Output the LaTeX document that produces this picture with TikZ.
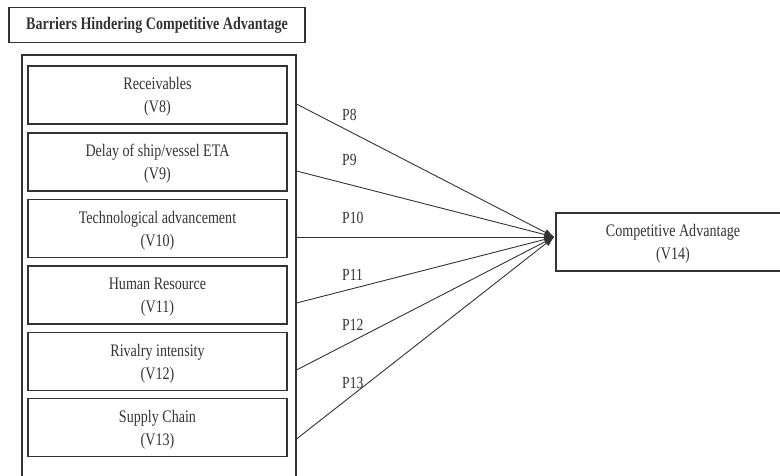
\documentclass[tikz,border=0pt]{standalone}
\usepackage{fontspec}
\setmainfont[FakeStretch=0.8]{Liberation Serif}
\usetikzlibrary{calc,arrows.meta}
\begin{document}
\begin{tikzpicture}[x=1pt,y=-1pt,
  ink/.style={draw=black!80},
  txt/.style={text=black!80, font=\fontsize{17.6}{23}\selectfont},
  framebox/.style={ink, line width=1.5pt, inner sep=0pt},
  varbox/.style={ink, txt, line width=1.5pt, minimum width=259pt, minimum height=58pt, align=center, inner sep=0pt, text depth=-2pt},
  titlebox/.style={ink, txt, line width=1.5pt, minimum width=296pt, minimum height=35pt, inner sep=0pt, font=\fontsize{17.6}{22}\selectfont\bfseries},
  plabel/.style={txt, anchor=base west, inner sep=0pt, font=\fontsize{17}{20}\selectfont},
  link/.style={draw=black!80, line width=0.9pt, -{Latex[length=10pt,width=7pt]}}]
\useasboundingbox (0,0) rectangle (780,475);

% heading
\node[titlebox] (title) at (157,25) {Barriers Hindering Competitive Advantage};

% frame around the barrier variables
\node[framebox, anchor=north west, minimum width=274pt, minimum height=440pt] (outer) at (21,54) {};

% barrier variables
\node[varbox] (v8)  at (157.5,95)  {Receivables\\(V8)};
\node[varbox] (v9)  at (157.5,162) {Delay of ship/vessel ETA\\(V9)};
\node[varbox] (v10) at (157.5,228.5) {Technological advancement\\(V10)};
\node[varbox] (v11) at (157.5,295) {Human Resource\\(V11)};
\node[varbox] (v12) at (157.5,361.5) {Rivalry intensity\\(V12)};
\node[varbox] (v13) at (157.5,427.5) {Supply Chain\\(V13)};

% outcome variable
\node[varbox, minimum width=234pt] (ca) at (673,242) {Competitive Advantage\\(V14)};

% paths into the outcome
\coordinate (hub) at ($(ca.west)+(-1,-5)$);
\draw[link] ($(v8.center -| outer.east)+(0,9)$) -- (hub);
\draw[link] ($(v9.center -| outer.east)+(0,9)$) -- (hub);
\draw[link] ($(v10.center -| outer.east)+(0,8.5)$) -- (hub);
\draw[link] ($(v11.center -| outer.east)+(0,8)$) -- (hub);
\draw[link] ($(v12.center -| outer.east)+(0,8.5)$) -- (hub);
\draw[link] ($(v13.center -| outer.east)+(0,11.5)$) -- (hub);

% path labels
\node[plabel] (p8)  at (342,120.7) {P8};
\node[plabel] (p9)  at (342,165.7) {P9};
\node[plabel] (p10) at (342,223)   {P10};
\node[plabel] (p11) at (342,280.7) {P11};
\node[plabel] (p12) at (342,330)   {P12};
\node[plabel] (p13) at (342,388)   {P13};
\end{tikzpicture}
\end{document}
